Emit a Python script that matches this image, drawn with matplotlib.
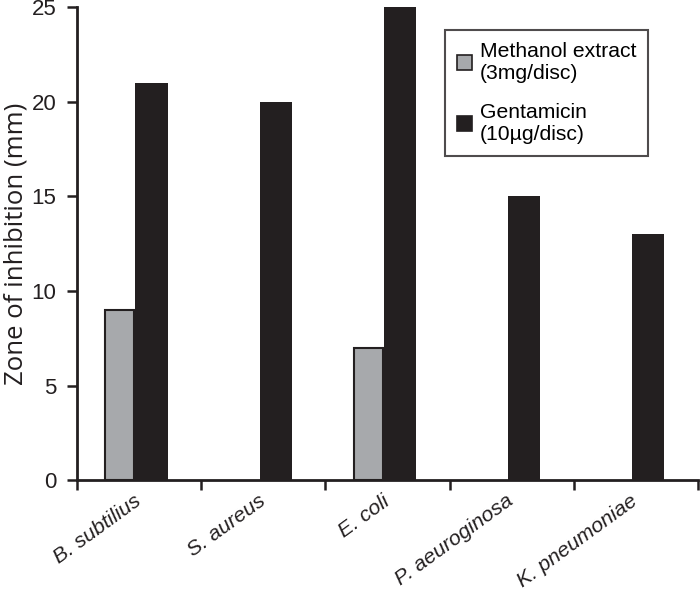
import matplotlib
matplotlib.use("Agg")
import matplotlib.pyplot as plt
import numpy as np

plt.rcParams['font.family'] = ['Liberation Sans', 'DejaVu Sans']

categories = ["B. subtilius", "S. aureus", "E. coli", "P. aeuroginosa", "K. pneumoniae"]
methanol = [9, 0, 7, 0, 0]
gentamicin = [21, 20, 25, 15, 13]
yticks = [0, 5, 10, 15, 20, 25]

DARK = "#231f20"
fig = plt.figure(figsize=(7, 5.9), dpi=100)
ax = fig.add_axes([0.11, 0.186, 0.887, 0.802])

x = np.arange(len(categories))
meth = np.array(methanol, dtype=float)
meth[meth == 0] = np.nan
ax.bar(x - 0.155, meth, width=0.235, color="#a7a9ac", edgecolor=DARK, linewidth=1.5,
       label="Methanol extract\n(3mg/disc)")
ax.bar(x + 0.1, gentamicin, width=0.26, color=DARK, edgecolor=DARK, linewidth=0,
       label="Gentamicin\n(10µg/disc)")

ax.set_xlim(-0.5, len(categories) - 0.5)
ax.set_ylim(0, 25)
ax.set_yticks(yticks)
ax.set_xticks(np.arange(len(categories) + 1) - 0.5)
ax.set_xticklabels([])
ax.set_xticks(x, minor=True)
ax.set_xticklabels(categories, minor=True, rotation=36, ha="right", va="top",
                   rotation_mode="anchor", fontstyle="italic", fontsize=15.3, color=DARK)
ax.tick_params(axis="x", which="minor", length=0, pad=8)
ax.tick_params(axis="x", which="major", length=7, width=1.8, direction="out", colors=DARK)
ax.tick_params(axis="y", length=7, width=1.8, direction="out", labelsize=16, colors=DARK, pad=8)
for lbl in ax.get_xticklabels(minor=True):
    lbl.set_transform(lbl.get_transform() + matplotlib.transforms.ScaledTranslation(-4/72, 0, fig.dpi_scale_trans))

for s in ["top", "right"]:
    ax.spines[s].set_visible(False)
for s in ["left", "bottom"]:
    ax.spines[s].set_linewidth(2)
    ax.spines[s].set_color(DARK)

ax.set_ylabel("Zone of inhibition (mm)", fontsize=18.5, color=DARK, family=["Open Sans", "DejaVu Sans"],
              labelpad=2)

leg = ax.legend(loc="upper left", bbox_to_anchor=(0.593, 0.951), fontsize=15.2, frameon=True,
                fancybox=False, edgecolor=DARK, handlelength=0.7, handleheight=0.7,
                handletextpad=0.4, labelspacing=0.95, borderpad=0.55, borderaxespad=0)
leg.get_frame().set_linewidth(1.5)
for h in leg.legend_handles:
    h.set_edgecolor(DARK)
    h.set_linewidth(1.2)

fig.savefig("out.png", dpi=100)
